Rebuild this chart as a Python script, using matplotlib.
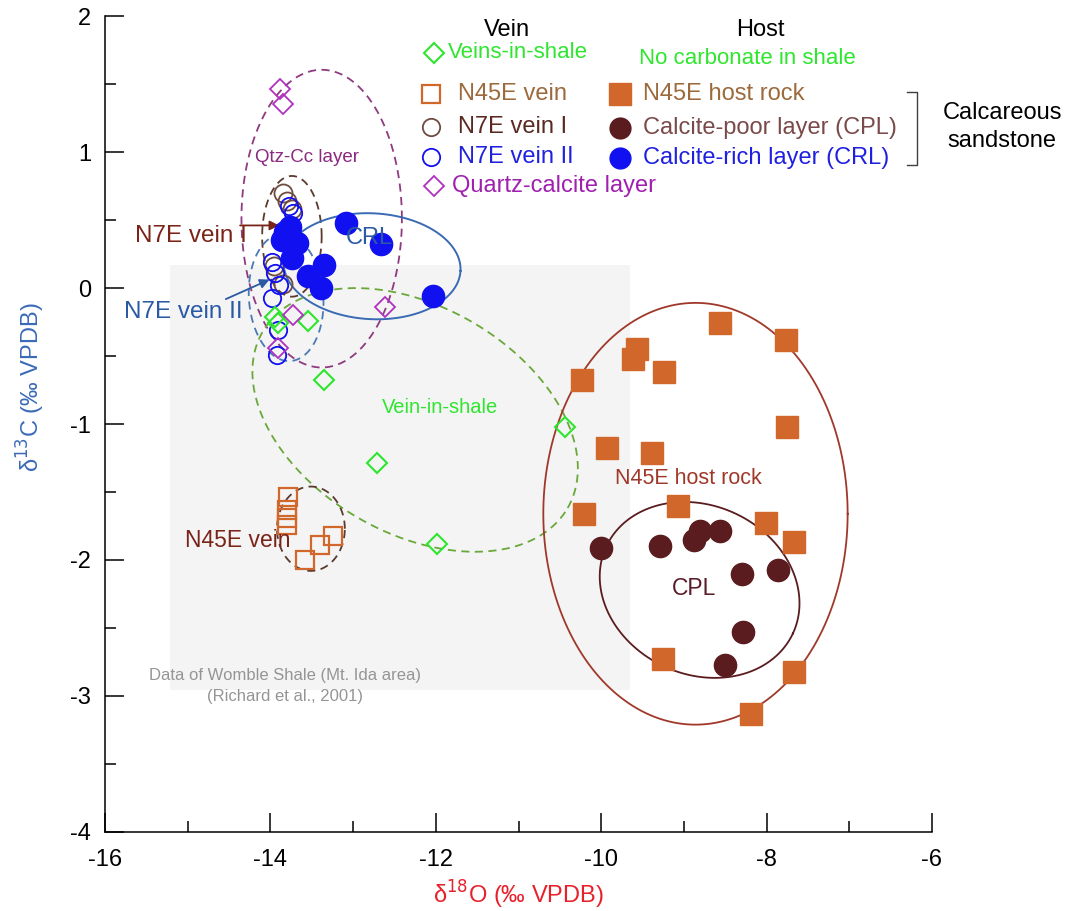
"""
d18O vs d13C of veins and host rocks (Womble Shale area)
"""
import numpy as np
import matplotlib
matplotlib.use('Agg')
import matplotlib.pyplot as plt
from matplotlib.patches import Rectangle

plt.rcParams['font.family'] = ['Liberation Sans', 'DejaVu Sans']

# ---- data (d18O, d13C) ----
shale_vein_x = [-13.94, -13.91, -13.55, -13.35, -12.71, -11.99, -10.44]
shale_vein_y = [-0.21, -0.26, -0.24, -0.68, -1.29, -1.88, -1.02]

n45e_vein_x = [-13.79, -13.80, -13.80, -13.80, -13.58, -13.40, -13.24]
n45e_vein_y = [-1.54, -1.63, -1.69, -1.74, -2.00, -1.89, -1.82]

n7e_vein1_x = [-13.85, -13.80, -13.74, -13.96, -13.85]
n7e_vein1_y = [0.70, 0.64, 0.58, 0.16, 0.03]

n7e_vein2_x = [-13.78, -13.73, -13.98, -13.94, -13.90, -13.98, -13.91, -13.92]
n7e_vein2_y = [0.60, 0.55, 0.19, 0.11, 0.02, -0.07, -0.31, -0.49]

qtz_cc_x = [-13.88, -13.85, -12.61, -13.73, -13.91]
qtz_cc_y = [1.46, 1.35, -0.14, -0.20, -0.44]

host_x = [-8.56, -7.77, -9.57, -9.62, -9.24, -10.23, -7.75, -9.93, -9.39,
          -9.07, -10.21, -8.01, -7.67, -9.25, -7.67, -8.19]
host_y = [-0.26, -0.38, -0.45, -0.52, -0.62, -0.68, -1.02, -1.18, -1.21,
          -1.60, -1.66, -1.73, -1.87, -2.73, -2.82, -3.13]

cpl_x = [-10.00, -9.29, -8.88, -8.81, -8.56, -8.30, -7.86, -8.29, -8.50]
cpl_y = [-1.91, -1.90, -1.85, -1.79, -1.79, -2.10, -2.07, -2.53, -2.77]

crl_x = [-13.09, -12.66, -12.03, -13.76, -13.86, -13.68, -13.74, -13.82,
         -13.54, -13.39, -13.35]
crl_y = [0.48, 0.32, -0.06, 0.45, 0.35, 0.33, 0.22, 0.41, 0.09, 0.00, 0.17]

# field ellipses: centre x, centre y, semi-axis a, semi-axis b (x units), angle
ell_qtz = (-13.38, 0.51, 0.97, 1.80, 0)
ell_vein1 = (-13.74, 0.38, 0.36, 0.73, 0)
ell_vein2 = (-13.81, -0.07, 0.45, 0.77, 4)
ell_crl = (-12.77, 0.16, 1.07, 0.64, -3)
ell_shale = (-12.25, -0.97, 2.13, 1.37, -30)
ell_host = (-8.86, -1.66, 1.84, 2.55, 0)
ell_cpl = (-8.81, -2.22, 1.245, 1.02, -25)
ell_n45e = (-13.51, -1.77, 0.41, 0.51, 0)

GREEN = '#2ee62e'
ORANGE = '#d2672c'
BROWN = '#6e4c40'
MAROON = '#5a1c1e'
BLUE = '#1010f0'
PURPLE = '#b030c0'

W, H = 1068, 911
fig = plt.figure(figsize=(W / 100, H / 100), dpi=100)
ax = fig.add_axes([105 / W, 1 - 832 / H, 827 / W, 816 / H])
ax.set_xlim(-16, -6)
ax.set_ylim(-4, 2)
K = (816 / 6) / (827 / 10)


def ellipse(ax, p, **kw):
    cx, cy, a, b, ang = p
    t = np.linspace(0, 2 * np.pi, 400)
    th = np.deg2rad(ang)
    ex, ey = a * np.cos(t), b * np.sin(t)
    dx = ex * np.cos(th) - ey * np.sin(th)
    dy = ex * np.sin(th) + ey * np.cos(th)
    ax.plot(cx + dx, cy + dy / K, **kw)


# faded background of the shale data figure
ax.add_patch(Rectangle((0.079, 0.174), 0.556, 0.521, transform=ax.transAxes,
                       facecolor='#f4f4f4', edgecolor='none', zorder=0))
ax.text(-13.82, -2.93, 'Data of Womble Shale (Mt. Ida area)\n(Richard et al., 2001)',
        ha='center', va='center', fontsize=12, color='#959595', linespacing=1.5)

dash = (0, (4.5, 3))
ellipse(ax, ell_qtz, color='#8e3a80', lw=1.3, ls=dash)
ellipse(ax, ell_vein1, color='#5a3a2e', lw=1.3, ls=dash)
ellipse(ax, ell_vein2, color='#4a7ab4', lw=1.3, ls=dash)
ellipse(ax, ell_crl, color='#3a6ab4', lw=1.4)
ellipse(ax, ell_shale, color='#6aa83a', lw=1.3, ls=dash)
ellipse(ax, ell_host, color='#a0382a', lw=1.3)
ellipse(ax, ell_cpl, color='#5a1c1e', lw=1.3)
ellipse(ax, ell_n45e, color='#5a3a2e', lw=1.3, ls=dash)

ax.plot(host_x, host_y, 's', ms=15.5, color=ORANGE, mec=ORANGE, ls='none', zorder=3)
ax.plot(cpl_x, cpl_y, 'o', ms=16, color=MAROON, ls='none', zorder=3)
ax.plot(crl_x, crl_y, 'o', ms=16, color=BLUE, ls='none', zorder=4)
ax.plot(n7e_vein1_x, n7e_vein1_y, 'o', ms=13, mfc='none', mec=BROWN, mew=1.3, ls='none', zorder=3)
ax.plot(n7e_vein2_x, n7e_vein2_y, 'o', ms=12.5, mfc='none', mec=BLUE, mew=1.3, ls='none', zorder=5)
ax.plot(n45e_vein_x, n45e_vein_y, 's', ms=12.5, mfc='none', mec=ORANGE, mew=1.6, ls='none', zorder=3)
ax.plot(shale_vein_x, shale_vein_y, 'D', ms=10.5, mfc='none', mec=GREEN, mew=1.5, ls='none', zorder=5)
ax.plot(qtz_cc_x, qtz_cc_y, 'D', ms=10.5, mfc='none', mec=PURPLE, mew=1.3, ls='none', zorder=5)

# field labels
ax.text(-13.56, 0.96, 'Qtz-Cc layer', ha='center', va='center', fontsize=13.5, color='#8a2a80')
ax.text(-12.81, 0.37, 'CRL', ha='center', va='center', fontsize=17, color='#2a5aa4', zorder=6)
ax.text(-11.95, -0.88, 'Vein-in-shale', ha='center', va='center', fontsize=14.5, color=GREEN)
ax.text(-8.95, -1.40, 'N45E host rock', ha='center', va='center', fontsize=15.5, color='#a0382a')
ax.text(-8.88, -2.21, 'CPL', ha='center', va='center', fontsize=16.5, color='#5a1c2a')
ax.text(-14.40, -1.86, 'N45E vein', ha='center', va='center', fontsize=16.5, color='#7a2418')
ax.text(-15.64, 0.38, 'N7E vein I', ha='left', va='center', fontsize=17.5, color='#7a2418')
ax.text(-15.77, -0.18, 'N7E vein II', ha='left', va='center', fontsize=17.5, color='#2a5aa4')
ax.annotate('', xy=(-13.86, 0.46), xytext=(-14.40, 0.46),
            arrowprops=dict(arrowstyle='-|>', color='#7a2418', lw=1.3, mutation_scale=14))
ax.annotate('', xy=(-13.98, 0.07), xytext=(-14.57, -0.09),
            arrowprops=dict(arrowstyle='-|>', color='#2a5aa4', lw=1.3, mutation_scale=14))

# axes styling
for s in ['top', 'right']:
    ax.spines[s].set_visible(False)
for s in ['left', 'bottom']:
    ax.spines[s].set_linewidth(1.1)
ax.set_xticks(np.arange(-16, -5, 2))
ax.set_xticks(np.arange(-15, -6, 2), minor=True)
ax.set_yticks(np.arange(-4, 2.1, 1))
ax.set_yticks(np.arange(-3.5, 2, 1), minor=True)
ax.tick_params(which='both', direction='in', width=1.1, labelsize=17)
ax.tick_params(which='major', length=14)
ax.tick_params(which='minor', length=8)
ax.tick_params(axis='x', pad=12)
ax.tick_params(axis='y', pad=10)
ax.set_xticklabels(['-16', '-14', '-12', '-10', '-8', '-6'])
ax.set_yticklabels(['-4', '-3', '-2', '-1', '0', '1', '2'])
ax.set_xlabel('δ$^{18}$O (‰ VPDB)', fontsize=17, color='#e8202a', labelpad=6)
ax.set_ylabel('δ$^{13}$C (‰ VPDB)', fontsize=17, color='#3a6ab8')
ax.yaxis.set_label_coords(-0.07, 0.545)


# ---- custom legend in figure pixels ----
def fxy(x, y):
    return x / W, 1 - y / H


def mark(x, y, **kw):
    fx, fy = fxy(x, y)
    ax.plot([fx], [fy], transform=fig.transFigure, clip_on=False, ls='none', **kw)


def label(x, y, s, color, size=17, ha='left'):
    fx, fy = fxy(x, y)
    fig.text(fx, fy, s, color=color, fontsize=size, ha=ha, va='center')


label(507, 30, 'Vein', 'black', ha='center')
label(760, 30, 'Host', 'black', ha='center')
mark(434, 53, marker='D', ms=10.5, mfc='none', mec=GREEN, mew=1.5)
label(448, 53, 'Veins-in-shale', GREEN, size=16)
label(747, 58, 'No carbonate in shale', GREEN, size=16, ha='center')

mark(431, 94, marker='s', ms=13, mfc='none', mec=ORANGE, mew=1.6)
label(458, 94, 'N45E vein', '#9c6a3c')
mark(431, 127, marker='o', ms=12.5, mfc='none', mec=BROWN, mew=1.3)
label(458, 127, 'N7E vein I', '#5a2a22')
mark(431, 157, marker='o', ms=12.5, mfc='none', mec=BLUE, mew=1.3)
label(458, 157, 'N7E vein II', '#2020e0')
mark(434, 186, marker='D', ms=10.5, mfc='none', mec=PURPLE, mew=1.3)
label(452, 186, 'Quartz-calcite layer', '#a020b0')

mark(620, 94, marker='s', ms=15.5, color=ORANGE)
label(643, 94, 'N45E host rock', '#9c6a3c')
mark(620, 128, marker='o', ms=15, color=MAROON)
label(643, 128, 'Calcite-poor layer (CPL)', '#7a4a4a')
mark(620, 158, marker='o', ms=15, color=BLUE)
label(643, 158, 'Calcite-rich layer (CRL)', '#2020e0')

bx = np.array([907, 917, 917, 907]) / W
by = 1 - np.array([92, 92, 165, 165]) / H
ax.plot(bx, by, color='#404040', lw=1.0, transform=fig.transFigure, clip_on=False)
label(1002, 113, 'Calcareous', 'black', ha='center')
label(1002, 141, 'sandstone', 'black', ha='center')

fig.savefig('out.png', dpi=100, facecolor='white')
